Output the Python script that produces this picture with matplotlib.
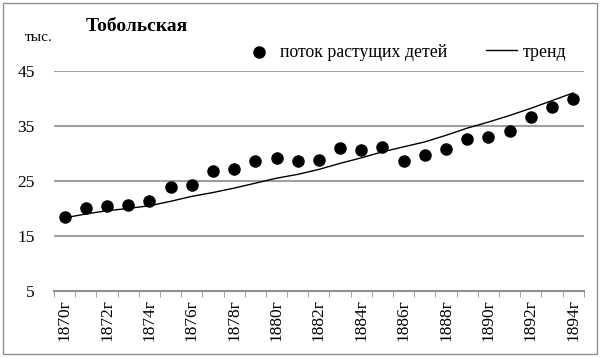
import matplotlib.pyplot as plt
from matplotlib.patches import Rectangle

years = list(range(1870, 1895))
labels = ["%dг" % y for y in years]
# поток растущих детей, тыс.
flow = [18.5, 20.0, 20.5, 20.7, 21.3, 23.9, 24.3, 26.8, 27.1, 28.6,
        29.1, 28.7, 28.9, 30.9, 30.7, 31.2, 28.6, 29.8, 30.8, 32.6,
        32.9, 34.1, 36.7, 38.5, 39.9]
# тренд
trend = [18.3, 19.0, 19.6, 20.0, 20.5, 21.3, 22.2, 22.9, 23.7, 24.6,
         25.5, 26.2, 27.1, 28.2, 29.2, 30.3, 31.2, 32.1, 33.3, 34.6,
         35.7, 36.9, 38.2, 39.6, 41.0]
yticks = [5, 15, 25, 35, 45]

plt.rcParams['font.family'] = ['Liberation Serif', 'DejaVu Serif']

fig = plt.figure(figsize=(6, 3.58), dpi=100)
ax = fig.add_axes([0.09, 0.187, 0.883, 0.615])

xs = list(range(len(years)))
ax.scatter(xs, flow, s=64, color='black', zorder=3, label='поток растущих детей')
ax.plot(xs, trend, color='black', lw=1, zorder=2, label='тренд')

ax.set_xlim(-0.5, len(years) - 0.5)
ax.set_ylim(5, 45)
ax.set_yticks(yticks)
for v in yticks[1:]:
    ax.axhline(v, color='#a0a0a0', lw=1.5, zorder=1)

ax.set_xticks(xs[::2])
ax.set_xticklabels(labels[::2], rotation=90, fontsize=12.5)
ax.set_xticks([x - 0.5 for x in xs] + [len(xs) - 0.5], minor=True)
ax.tick_params(axis='x', which='major', length=0, pad=6)
ax.tick_params(axis='x', which='minor', length=4, color='#909090', direction='out')
ax.tick_params(axis='y', length=0, pad=14, labelsize=12.5)

for s in ['top', 'right', 'left']:
    ax.spines[s].set_visible(False)
ax.spines['bottom'].set_color('#909090')
ax.spines['bottom'].set_linewidth(1.5)

ax.legend(ncol=2, frameon=False, loc='center', bbox_to_anchor=(0.662, 1.085),
          fontsize=12.8, handlelength=1.75, columnspacing=2.2, handletextpad=0.3)

fig.text(0.228, 0.925, 'Тобольская', fontsize=14, fontweight='bold', ha='center', va='center')
fig.text(0.065, 0.895, 'тыс.', fontsize=11, ha='center', va='center')

fig.add_artist(Rectangle((0.005, 0.012), 0.99, 0.98, transform=fig.transFigure,
                         fill=False, edgecolor='#909090', lw=1))

fig.savefig('out.png', dpi=100)
